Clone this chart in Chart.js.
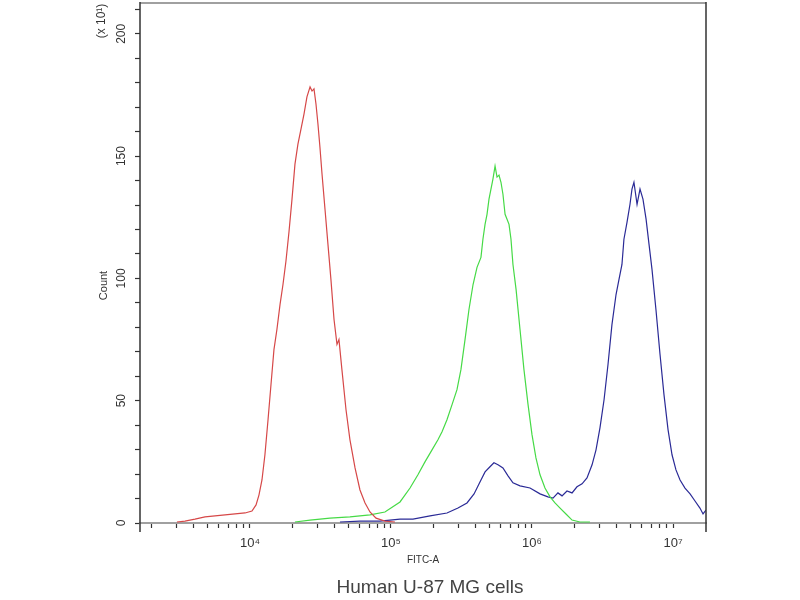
<!DOCTYPE html>
<html>
<head>
<meta charset="utf-8">
<script src="https://cdn.jsdelivr.net/npm/chart.js@4.4.1/dist/chart.umd.min.js"></script>
<style>
  html, body { margin: 0; padding: 0; background: #fff; }
  #wrap { width: 800px; height: 600px; }
</style>
</head>
<body>
<div id="wrap"><canvas id="facs"></canvas></div>
<script>
// FITC-A channel, stored as log10 of the intensity; counts are in units of 10^1
const xLogMin = 3.22;
const xLogMax = 7.234;
const yMax = 213;
const yLabelTicks = [0, 50, 100, 150, 200];
const xDecades = [3, 4, 5, 6, 7];

const redLogFitc = [3.482,3.539,3.610,3.681,3.752,3.823,3.894,3.965,4.014,4.043,
  4.064,4.085,4.106,4.128,4.149,4.170,4.191,4.213,4.234,4.255,
  4.277,4.298,4.319,4.340,4.362,4.383,4.404,4.426,4.440,4.454,
  4.468,4.482,4.496,4.511,4.532,4.553,4.574,4.596,4.617,4.631,
  4.652,4.681,4.709,4.745,4.780,4.816,4.851,4.894,4.957,5.028];
const redCount = [0.4,0.8,1.6,2.5,2.9,3.3,3.7,4.1,4.9,7.4,
  11.5,17.6,27.9,42.2,56.6,70.9,79.1,89.3,97.5,107.0,
  119.3,132.4,146.7,154.9,161.1,167.2,174.2,178.3,176.6,177.5,
  171.3,163.1,153.7,142.6,128.3,113.9,99.6,83.2,73.0,75.0,
  62.7,46.3,34.0,22.5,13.5,8.2,4.5,2.0,0.8,0.4];

const greenLogFitc = [4.319,4.426,4.567,4.709,4.851,4.957,5.064,5.135,5.191,5.241,
  5.291,5.333,5.362,5.397,5.433,5.468,5.496,5.525,5.553,5.582,
  5.610,5.638,5.652,5.667,5.681,5.695,5.709,5.723,5.738,5.752,
  5.766,5.780,5.794,5.809,5.823,5.837,5.851,5.865,5.887,5.915,
  5.943,5.972,6.000,6.028,6.057,6.092,6.128,6.163,6.199,6.241,
  6.284,6.340,6.411];
const greenCount = [0.4,1.2,2.0,2.5,3.3,4.5,8.6,14.3,19.7,25.0,
  29.9,34.0,37.3,42.2,48.4,54.5,62.7,75.0,87.3,97.5,
  104.5,108.6,116.0,122.1,126.2,132.4,136.5,140.6,145.9,141.4,
  142.2,139.3,134.4,126.2,124.2,122.1,116.0,105.7,95.5,79.1,
  62.7,48.4,36.1,26.6,19.7,14.3,10.7,8.2,6.1,3.7,
  1.2,0.4,0.4];

const blueLogFitc = [4.638,4.780,4.922,5.064,5.156,5.277,5.397,5.475,5.539,5.589,
  5.631,5.667,5.702,5.730,5.759,5.794,5.830,5.865,5.915,5.986,
  6.057,6.113,6.149,6.184,6.213,6.248,6.284,6.319,6.355,6.390,
  6.426,6.454,6.482,6.511,6.539,6.567,6.596,6.617,6.638,6.652,
  6.674,6.695,6.709,6.723,6.745,6.766,6.787,6.809,6.830,6.851,
  6.879,6.908,6.936,6.965,6.993,7.021,7.050,7.085,7.121,7.156,
  7.191,7.213,7.234];
const blueCount = [0.4,0.8,0.8,1.6,1.6,2.9,4.1,6.1,8.2,11.9,
  16.8,20.9,23.0,24.6,23.8,22.5,19.3,16.4,15.2,14.3,
  11.9,10.7,10.2,12.3,11.1,13.1,12.3,14.8,16.0,18.4,
  23.8,29.9,38.9,50.4,64.8,81.1,93.4,99.6,105.7,116.0,
  123.0,130.3,136.5,139.3,130.3,136.5,132.4,124.2,113.9,103.7,
  87.3,68.9,52.5,38.1,27.9,21.7,17.6,14.3,11.9,9.0,
  6.1,3.7,5.3];

function toPoints(logs, counts) {
    return logs.map((e, i) => ({ x: Math.pow(10, e), y: counts[i] }));
}

function histSet(logs, counts, color) {
    return {
        data: toPoints(logs, counts),
        borderColor: color,
        borderWidth: 1.2,
        pointRadius: 0,
        tension: 0,
        fill: false
    };
}

const supDigits = { 3: '³', 4: '⁴', 5: '⁵', 6: '⁶', 7: '⁷' };
const captionFont = "'Liberation Sans', Arial, sans-serif";

// frame lines and rotated texts, positioned from the chart area and scales
const framePlugin = {
    id: 'frame',
    afterDatasetsDraw(chart) {
        const { ctx, chartArea: a, scales } = chart;
        ctx.save();
        ctx.strokeStyle = '#a0a0a0';
        ctx.lineWidth = 2;
        ctx.beginPath();
        ctx.moveTo(a.left, a.top + 1);
        ctx.lineTo(a.right, a.top + 1);
        ctx.stroke();

        ctx.strokeStyle = '#333';
        ctx.lineWidth = 1.5;
        ctx.beginPath();
        ctx.moveTo(a.left, a.top);
        ctx.lineTo(a.left, a.bottom + 9);
        ctx.moveTo(a.right, a.top);
        ctx.lineTo(a.right, a.bottom + 9);
        ctx.stroke();

        // rotated y labels
        ctx.fillStyle = '#333';
        ctx.textAlign = 'center';
        ctx.textBaseline = 'middle';
        ctx.font = "12px " + captionFont;
        yLabelTicks.forEach(v => {
            const py = scales.y.getPixelForValue(v);
            ctx.save();
            ctx.translate(a.left - 18, py);
            ctx.rotate(-Math.PI / 2);
            ctx.fillText(String(v), 0, 0);
            ctx.restore();
        });

        ctx.save();
        ctx.translate(a.left - 38, a.top + 19);
        ctx.rotate(-Math.PI / 2);
        ctx.fillText('(x 10¹)', 0, 0);
        ctx.restore();

        ctx.font = "11px " + captionFont;
        ctx.save();
        ctx.translate(a.left - 36, (a.top + a.bottom) / 2 + 23);
        ctx.rotate(-Math.PI / 2);
        ctx.fillText('Count', 0, 0);
        ctx.restore();

        ctx.font = "10px " + captionFont;
        ctx.fillText('FITC-A', (a.left + a.right) / 2, 560);

        ctx.fillStyle = '#444';
        ctx.font = "19px " + captionFont;
        ctx.fillText('Human U-87 MG cells', (a.left + a.right) / 2 + 7, 588);
        ctx.restore();
    }
};

new Chart(document.getElementById('facs'), {
    type: 'line',
    data: {
        datasets: [
            histSet(redLogFitc, redCount, 'rgb(214,72,72)'),
            histSet(greenLogFitc, greenCount, 'rgb(70,218,70)'),
            histSet(blueLogFitc, blueCount, 'rgb(42,42,150)')
        ]
    },
    options: {
        responsive: true,
        maintainAspectRatio: false,
        animation: false,
        layout: { padding: { left: 0, right: 94, top: 2, bottom: 0 } },
        plugins: { legend: { display: false }, tooltip: { enabled: false } },
        scales: {
            x: {
                type: 'logarithmic',
                min: Math.pow(10, xLogMin),
                max: Math.pow(10, xLogMax),
                afterBuildTicks: (scale) => {
                    const t = [];
                    xDecades.forEach(d => {
                        for (let m = 1; m <= 9; m++) {
                            const v = m * Math.pow(10, d);
                            if (v >= scale.min && v <= scale.max) t.push({ value: v });
                        }
                    });
                    scale.ticks = t;
                },
                afterFit: (scale) => { scale.height = 77; },
                border: { display: true, color: '#a0a0a0', width: 2 },
                grid: { drawOnChartArea: false, drawTicks: true, tickLength: 5, color: '#333', tickWidth: 1.2 },
                ticks: {
                    autoSkip: false,
                    maxRotation: 0,
                    minRotation: 0,
                    padding: 8,
                    color: '#333',
                    font: { size: 13, family: captionFont },
                    callback: (v) => {
                        const e = Math.round(Math.log10(v));
                        return Math.abs(Math.pow(10, e) - v) < 1e-6 ? '10' + supDigits[e] : '';
                    }
                }
            },
            y: {
                min: 0,
                max: yMax,
                afterBuildTicks: (scale) => {
                    const t = [];
                    for (let v = 0; v <= 210; v += 10) t.push({ value: v });
                    scale.ticks = t;
                },
                afterFit: (scale) => { scale.width = 140; },
                border: { display: false },
                grid: { drawOnChartArea: false, drawTicks: true, tickLength: 5, color: '#333', tickWidth: 1.2 },
                ticks: { display: false }
            }
        }
    },
    plugins: [framePlugin]
});
</script>
</body>
</html>
